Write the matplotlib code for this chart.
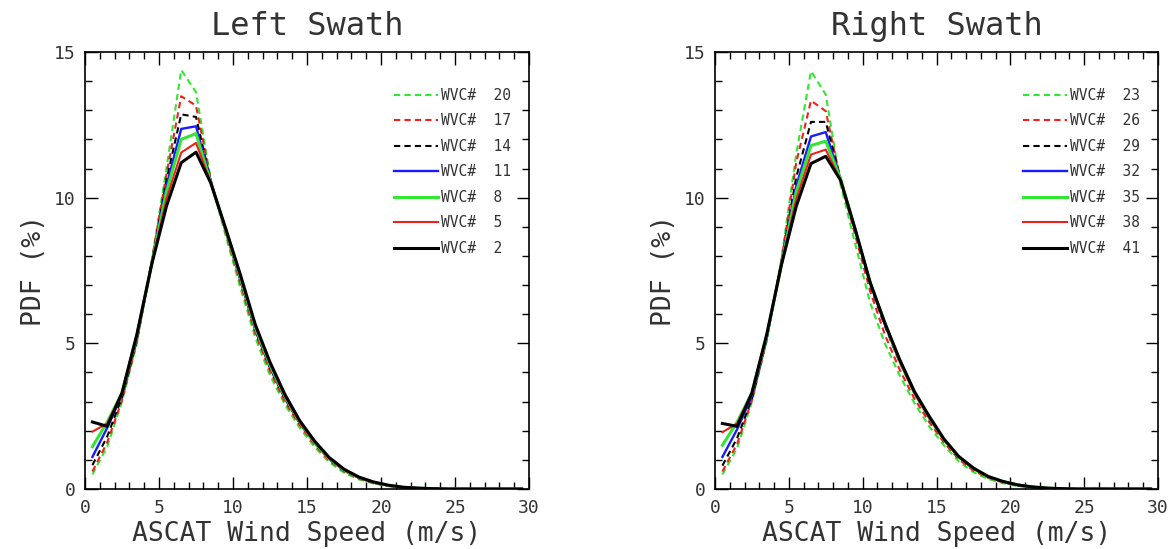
import numpy as np
import matplotlib
matplotlib.use("Agg")
import matplotlib.pyplot as plt
from matplotlib.ticker import MultipleLocator

# bin centres (m/s)
speed = np.arange(0.5, 30.0, 1.0)

def pad(v):
  return v + [0.0]*(len(speed) - len(v))

# Left swath PDFs (%)
left_20 = pad([0.5, 1.45, 3.0, 5.0, 7.8, 11.0, 14.38, 13.62, 10.6, 8.7, 6.9, 5.2, 3.9, 2.9, 2.1, 1.45, 0.92, 0.56, 0.33, 0.19, 0.1, 0.05, 0.02, 0.01])
left_17 = pad([0.6, 1.6, 3.05, 5.05, 7.8, 10.8, 13.48, 13.16, 10.6, 8.8, 7.05, 5.35, 4.05, 3.0, 2.2, 1.52, 0.98, 0.6, 0.36, 0.2, 0.11, 0.05, 0.02, 0.01])
left_14 = pad([0.82, 1.8, 3.15, 5.1, 7.75, 10.6, 12.86, 12.77, 10.55, 8.85, 7.15, 5.45, 4.15, 3.1, 2.25, 1.57, 1.02, 0.63, 0.38, 0.21, 0.11, 0.05, 0.02, 0.01])
left_11 = pad([1.1, 2.1, 3.25, 5.2, 7.7, 10.4, 12.36, 12.45, 10.55, 8.9, 7.2, 5.5, 4.2, 3.15, 2.3, 1.6, 1.04, 0.64, 0.39, 0.22, 0.12, 0.06, 0.03, 0.01])
left_8 = pad([1.45, 2.3, 3.3, 5.25, 7.7, 10.2, 12.0, 12.2, 10.5, 8.9, 7.25, 5.55, 4.25, 3.18, 2.3, 1.6, 1.05, 0.65, 0.4, 0.23, 0.12, 0.06, 0.03, 0.01])
left_5 = pad([1.97, 2.25, 3.3, 5.25, 7.7, 9.95, 11.55, 11.88, 10.5, 8.9, 7.3, 5.6, 4.3, 3.2, 2.3, 1.62, 1.06, 0.66, 0.4, 0.23, 0.12, 0.06, 0.03, 0.01])
left_2 = pad([2.3, 2.15, 3.3, 5.3, 7.7, 9.7, 11.2, 11.56, 10.5, 8.95, 7.35, 5.65, 4.35, 3.25, 2.35, 1.65, 1.08, 0.68, 0.41, 0.24, 0.13, 0.06, 0.03, 0.01])

# Right swath PDFs (%)
right_23 = pad([0.5, 1.4, 3.0, 5.1, 7.9, 11.5, 14.34, 13.54, 10.45, 8.4, 6.4, 5.0, 3.9, 2.95, 2.15, 1.5, 0.95, 0.58, 0.34, 0.2, 0.1, 0.05, 0.02, 0.01])
right_26 = pad([0.6, 1.55, 3.05, 5.1, 7.85, 11.2, 13.33, 12.97, 10.6, 8.7, 6.8, 5.3, 4.1, 3.1, 2.3, 1.6, 1.02, 0.63, 0.38, 0.22, 0.12, 0.06, 0.03, 0.01])
right_29 = pad([0.8, 1.75, 3.1, 5.15, 7.8, 10.7, 12.6, 12.6, 10.65, 8.85, 7.0, 5.6, 4.35, 3.3, 2.4, 1.68, 1.08, 0.68, 0.41, 0.24, 0.13, 0.07, 0.03, 0.01])
right_32 = pad([1.1, 2.05, 3.2, 5.2, 7.75, 10.4, 12.1, 12.25, 10.65, 8.9, 7.1, 5.65, 4.4, 3.3, 2.45, 1.7, 1.1, 0.7, 0.42, 0.25, 0.14, 0.07, 0.03, 0.01])
right_35 = pad([1.5, 2.3, 3.3, 5.25, 7.7, 10.2, 11.79, 11.94, 10.65, 8.9, 7.1, 5.7, 4.4, 3.3, 2.45, 1.7, 1.1, 0.7, 0.42, 0.25, 0.14, 0.07, 0.03, 0.01])
right_38 = pad([1.95, 2.25, 3.3, 5.3, 7.7, 9.95, 11.48, 11.65, 10.6, 8.9, 7.1, 5.7, 4.4, 3.3, 2.45, 1.7, 1.1, 0.7, 0.42, 0.25, 0.14, 0.07, 0.03, 0.01])
right_41 = pad([2.25, 2.15, 3.3, 5.3, 7.7, 9.7, 11.17, 11.42, 10.6, 8.9, 7.1, 5.7, 4.45, 3.35, 2.5, 1.72, 1.12, 0.72, 0.43, 0.26, 0.14, 0.07, 0.03, 0.01])

left_labels = ["WVC#  20", "WVC#  17", "WVC#  14", "WVC#  11", "WVC#  8", "WVC#  5", "WVC#  2"]
right_labels = ["WVC#  23", "WVC#  26", "WVC#  29", "WVC#  32", "WVC#  35", "WVC#  38", "WVC#  41"]

green = "#33e633"
red = "#ee2020"
blue = "#1a1aff"
styles = [
  (green, (0, (3, 2)), 1.5),
  (red, (0, (3, 2)), 1.5),
  ("black", (0, (3, 2)), 1.5),
  (blue, "-", 1.7),
  (green, "-", 2.2),
  (red, "-", 1.5),
  ("black", "-", 2.2),
]

plt.rcParams['font.family'] = ['DejaVu Sans Mono', 'DejaVu Sans']

fig = plt.figure(figsize=(11.71, 5.49), dpi=100)
ax_l = fig.add_axes([0.0726, 0.1093, 0.3792, 0.7960])
ax_r = fig.add_axes([0.6106, 0.1093, 0.3783, 0.7960])

panels = [
  (ax_l, "Left Swath", [left_20, left_17, left_14, left_11, left_8, left_5, left_2], left_labels),
  (ax_r, "Right Swath", [right_23, right_26, right_29, right_32, right_35, right_38, right_41], right_labels),
]

txt = '#333333'
for ax, title, series, labels in panels:
  for ys, lab, (c, ls, lw) in zip(series, labels, styles):
    ax.plot(speed, ys, color=c, linestyle=ls, linewidth=lw, label=lab)
  ax.set_xlim(0, 30)
  ax.set_ylim(0, 15)
  ax.xaxis.set_major_locator(MultipleLocator(5))
  ax.xaxis.set_minor_locator(MultipleLocator(1))
  ax.yaxis.set_major_locator(MultipleLocator(5))
  ax.yaxis.set_minor_locator(MultipleLocator(1))
  ax.tick_params(which='both', direction='in', top=True, right=True, labelsize=13, pad=7, labelcolor=txt)
  ax.tick_params(which='major', length=9, width=1)
  ax.tick_params(which='minor', length=5, width=1)
  for s in ax.spines.values():
    s.set_linewidth(1.2)
  ax.set_title(title, fontsize=23, pad=12, color=txt)
  ax.set_xlabel("ASCAT Wind Speed (m/s)", fontsize=19, labelpad=3, color=txt)
  ax.set_ylabel("PDF (%)", fontsize=19, labelpad=5, color=txt)
  leg = ax.legend(loc='upper right', bbox_to_anchor=(0.975, 0.935), frameon=False,
                  fontsize=10.5, handlelength=3.0, handletextpad=0.2,
                  labelspacing=0.72, borderpad=0)
  for t in leg.get_texts():
    t.set_color('#333333')

fig.savefig('out.png', dpi=100)
